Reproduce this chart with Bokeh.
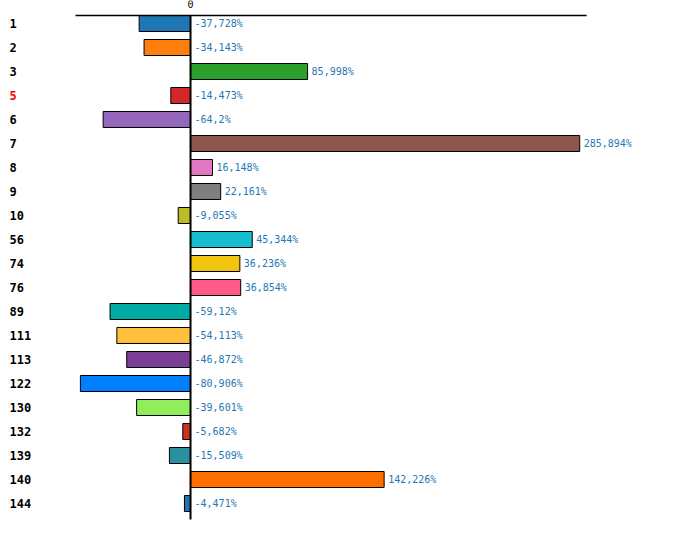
from bokeh.plotting import figure
from bokeh.models import ColumnDataSource, Range1d
from bokeh.core.properties import value
from bokeh.embed import file_html
from bokeh.resources import INLINE
import numpy as np

categories = ["1", "2", "3", "5", "6", "7", "8", "9", "10", "56", "74", "76",
              "89", "111", "113", "122", "130", "132", "139", "140", "144"]
values = [-37.728, -34.143, 85.998, -14.473, -64.2, 285.894, 16.148, 22.161,
          -9.055, 45.344, 36.236, 36.854, -59.12, -54.113, -46.872, -80.906,
          -39.601, -5.682, -15.509, 142.226, -4.471]
bar_colors = ["#1f77b4", "#ff7f0e", "#2ca02c", "#d62728", "#9467bd", "#8c564b",
              "#e377c2", "#7f7f7f", "#bcbd22", "#17becf", "#f1c40f", "#ff5a8a",
              "#00aaa5", "#ffc13b", "#7b3f98", "#0080ff", "#90ee5a", "#c8321e",
              "#2a90a0", "#ff6f00", "#2673b0"]
cat_colors = ["black", "black", "black", "red"] + ["black"] * 17

n = len(categories)
idx = list(range(n))
labels = [("%s" % v).replace(".", ",") + "%" for v in values]

# axis extents (value axis and category axis)
AX_START, AX_END = -84.5, 291.0
Y_TOP, Y_BOTTOM = -1 / 3, n - 1 / 3
# whole-canvas view
VIEW_X = (-139.6, 367.3)
VIEW_Y = (n + 0.542, -0.958)
CAT_X = -133.0

MONO = value("DejaVu Sans Mono")

src = ColumnDataSource(dict(
    y=idx, v=values, c=bar_colors, cat=categories, cc=cat_colors,
    lx=list(np.maximum(np.array(values), 0)), lab=labels, cx=[CAT_X] * n,
))

p = figure(width=690, height=540, output_backend="svg", toolbar_location=None,
           x_range=Range1d(*VIEW_X), y_range=Range1d(*VIEW_Y),
           x_axis_location=None, y_axis_location=None, min_border=0)
p.grid.visible = False
p.outline_line_color = None
p.background_fill_color = "white"

p.hbar(y="y", left=0, right="v", height=2 / 3, fill_color="c",
       line_color="black", line_width=1, source=src)

# axis lines
p.segment(x0=[AX_START], y0=[Y_TOP], x1=[AX_END], y1=[Y_TOP],
          line_color="black", line_width=1.5)
p.segment(x0=[0], y0=[Y_TOP], x1=[0], y1=[Y_BOTTOM],
          line_color="black", line_width=2)

p.text(x="lx", y="y", text="lab", source=src, x_offset=4,
       text_font=MONO, text_font_size="10px",
       text_color="#1f77b4", text_baseline="middle", text_align="left")
p.text(x="cx", y="y", text="cat", source=src,
       text_font=MONO, text_font_size="12px",
       text_font_style="bold", text_color="cc",
       text_baseline="middle", text_align="left")
p.text(x=[0], y=[Y_TOP], text=["0"], y_offset=-7, text_font=MONO,
       text_font_size="10px", text_color="black",
       text_baseline="bottom", text_align="center")

open("out.html", "w").write(file_html(p, INLINE))
